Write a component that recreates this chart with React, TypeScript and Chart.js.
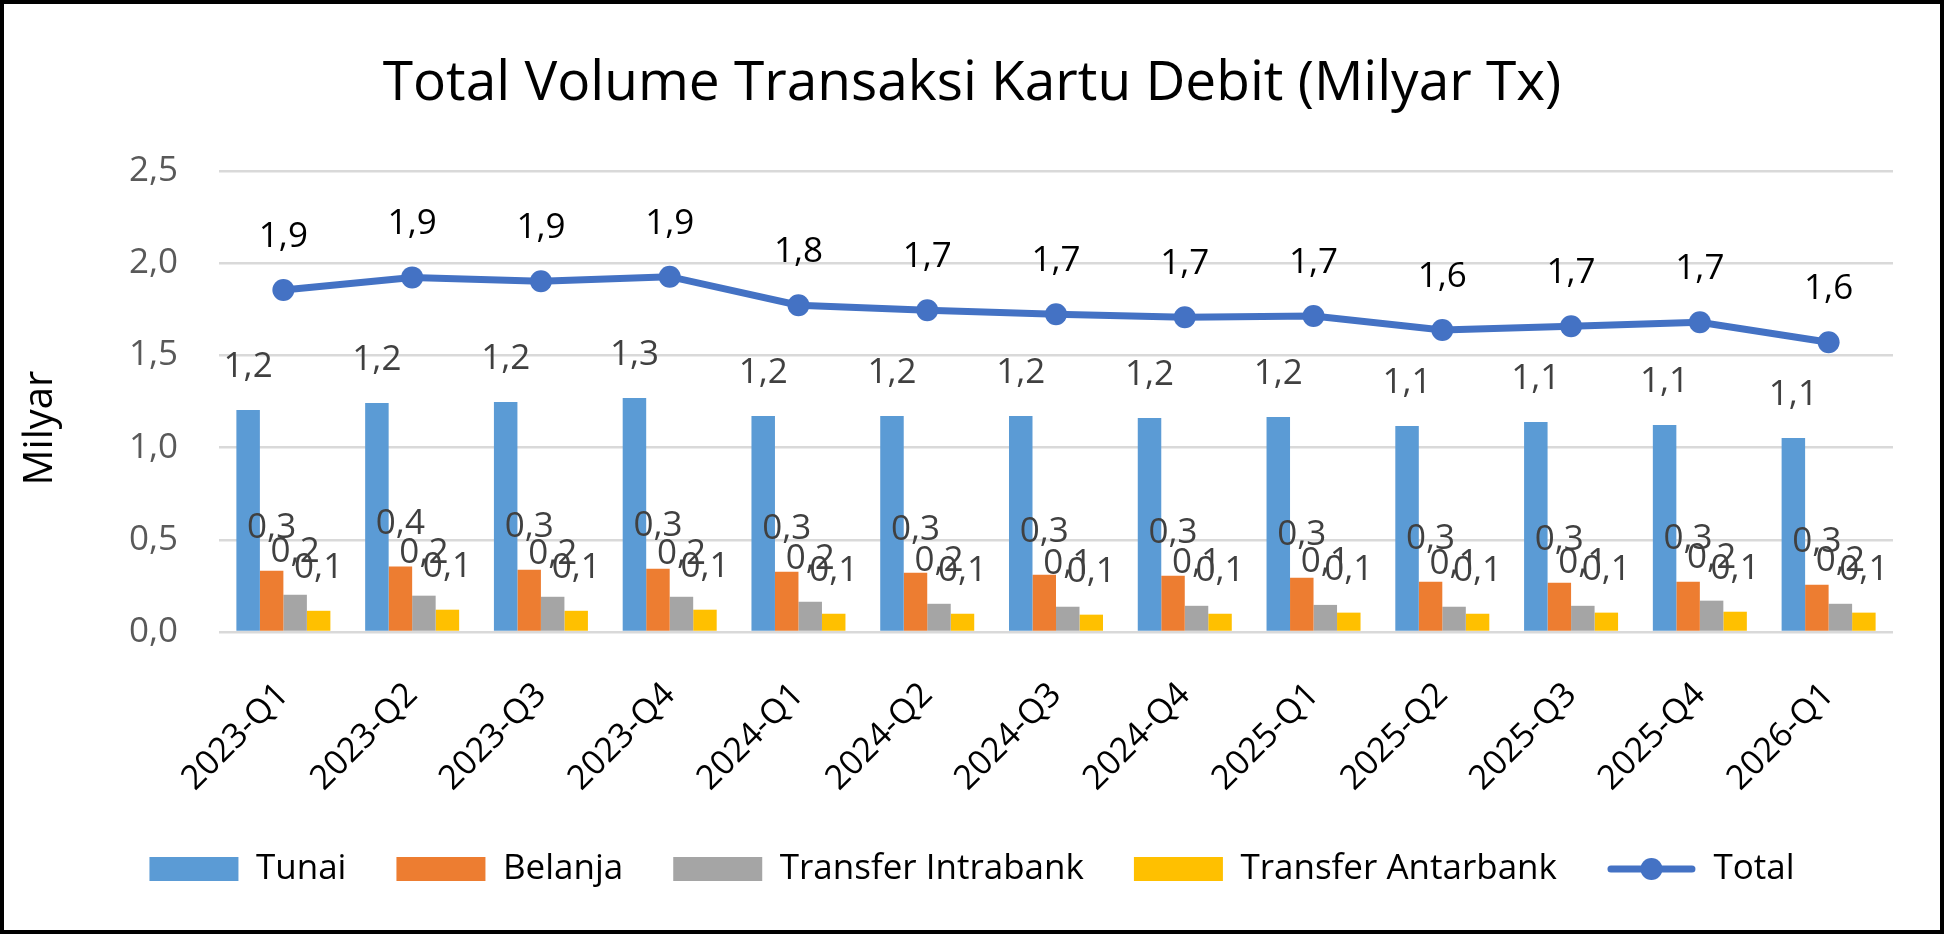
import { useEffect, useRef } from 'react';
import { Chart, registerables } from 'chart.js';

Chart.register(...registerables);

const quarters = [
  '2023-Q1', '2023-Q2', '2023-Q3', '2023-Q4',
  '2024-Q1', '2024-Q2', '2024-Q3', '2024-Q4',
  '2025-Q1', '2025-Q2', '2025-Q3', '2025-Q4',
  '2026-Q1',
];

// Milyar transaksi
const tunai = [1.204, 1.242, 1.247, 1.269, 1.171, 1.171, 1.171, 1.160, 1.166, 1.117, 1.139, 1.123, 1.052];
const belanja = [0.332, 0.355, 0.338, 0.343, 0.327, 0.321, 0.311, 0.305, 0.294, 0.273, 0.267, 0.273, 0.256];
const transferIntrabank = [0.202, 0.197, 0.191, 0.191, 0.164, 0.153, 0.137, 0.142, 0.147, 0.137, 0.142, 0.170, 0.153];
const transferAntarbank = [0.115, 0.121, 0.115, 0.121, 0.099, 0.099, 0.094, 0.099, 0.105, 0.099, 0.105, 0.110, 0.105];
const total = [1.855, 1.923, 1.902, 1.927, 1.772, 1.745, 1.723, 1.707, 1.714, 1.638, 1.658, 1.680, 1.571];

const yTicks = [0, 0.5, 1.0, 1.5, 2.0, 2.5];

const FONT = '"Open Sans", sans-serif';
const LINE_COLOR = '#4472C4';

const fmt = (v: number) => v.toFixed(1).replace('.', ',');

// Excel-style value labels above each bar / point
const valueLabels = {
  id: 'valueLabels',
  afterDatasetsDraw(chart: any) {
    const ctx = chart.ctx;
    ctx.save();
    ctx.font = `35px ${FONT}`;
    ctx.textAlign = 'center';
    ctx.textBaseline = 'alphabetic';
    chart.data.datasets.forEach((ds: any, di: number) => {
      const meta = chart.getDatasetMeta(di);
      const isLine = meta.type === 'line';
      ctx.fillStyle = isLine ? '#000000' : '#404040';
      meta.data.forEach((el: any, i: number) => {
        ctx.fillText(fmt(ds.data[i]), el.x, el.y - (isLine ? 43 : 33));
      });
    });
    ctx.restore();
  },
};

// vertical axis title, placed a bit below the axis middle like the original
const axisTitle = {
  id: 'axisTitle',
  afterDraw(chart: any) {
    const ctx = chart.ctx;
    ctx.save();
    ctx.font = `40px ${FONT}`;
    ctx.fillStyle = '#000000';
    ctx.textAlign = 'center';
    ctx.textBaseline = 'middle';
    ctx.translate(37, 424);
    ctx.rotate(-Math.PI / 2);
    ctx.fillText('Milyar', 0, 0);
    ctx.restore();
  },
};

// line + marker swatch for the Total legend entry
const lineLegendSwatch = {
  id: 'lineLegendSwatch',
  afterDraw(chart: any) {
    const legend = chart.legend;
    if (!legend || !legend.legendHitBoxes) return;
    const idx = legend.legendItems.findIndex((it: any) => it.datasetIndex === 4);
    const hb = legend.legendHitBoxes[idx];
    if (!hb) return;
    const ctx = chart.ctx;
    const boxW = legend.options.labels.boxWidth;
    const cy = hb.top + 35 / 2;
    ctx.save();
    ctx.strokeStyle = LINE_COLOR;
    ctx.fillStyle = LINE_COLOR;
    ctx.lineWidth = 7;
    ctx.lineCap = 'round';
    ctx.beginPath();
    ctx.moveTo(hb.left + 4, cy);
    ctx.lineTo(hb.left + boxW - 4, cy);
    ctx.stroke();
    ctx.beginPath();
    ctx.arc(hb.left + boxW / 2, cy, 11, 0, Math.PI * 2);
    ctx.fill();
    ctx.restore();
  },
};

export default function App() {
  const chartRef = useRef<HTMLCanvasElement>(null);
  const chartInstance = useRef<Chart | null>(null);

  useEffect(() => {
    if (!chartRef.current) return;
    document.body.style.margin = '0';

    if (chartInstance.current) {
      chartInstance.current.destroy();
    }

    const ctx = chartRef.current.getContext('2d');
    if (!ctx) return;

    Chart.defaults.font.family = FONT;
    Chart.defaults.color = '#000000';

    const barCommon = {
      type: 'bar' as const,
      categoryPercentage: 0.73,
      barPercentage: 1.0,
      borderWidth: 0,
    };

    chartInstance.current = new Chart(ctx, {
      type: 'bar',
      data: {
        labels: quarters,
        datasets: [
          { ...barCommon, label: 'Tunai', data: tunai, backgroundColor: '#5B9BD5' },
          { ...barCommon, label: 'Belanja', data: belanja, backgroundColor: '#ED7D31' },
          { ...barCommon, label: 'Transfer Intrabank', data: transferIntrabank, backgroundColor: '#A5A5A5' },
          { ...barCommon, label: 'Transfer Antarbank', data: transferAntarbank, backgroundColor: '#FFC000' },
          {
            type: 'line',
            label: 'Total',
            data: total,
            borderColor: LINE_COLOR,
            backgroundColor: LINE_COLOR,
            borderWidth: 7,
            pointRadius: 11,
            pointBorderWidth: 0,
            pointBackgroundColor: LINE_COLOR,
            tension: 0,
            fill: false,
          } as any,
        ],
      },
      options: {
        responsive: false,
        animation: false,
        events: [],
        layout: { padding: { left: 0, right: 0, top: 0, bottom: 33.5 } },
        plugins: {
          title: {
            display: true,
            text: 'Total Volume Transaksi Kartu Debit (Milyar Tx)',
            color: '#000000',
            font: { size: 55, weight: 'normal' },
            padding: { top: 47, bottom: 54 },
          },
          legend: {
            position: 'bottom',
            labels: {
              boxWidth: 89,
              boxHeight: 24,
              padding: 50,
              color: '#000000',
              font: { size: 35 },
              generateLabels(chart: any) {
                const items = Chart.defaults.plugins.legend.labels.generateLabels(chart);
                items.forEach((it: any) => {
                  if (it.datasetIndex === 4) {
                    it.fillStyle = 'rgba(0,0,0,0)';
                    it.strokeStyle = 'rgba(0,0,0,0)';
                    it.lineWidth = 0;
                  }
                });
                return items;
              },
            },
          },
          tooltip: { enabled: false },
        },
        scales: {
          x: {
            grid: { display: false },
            border: { display: false },
            ticks: {
              autoSkip: false,
              minRotation: 45,
              maxRotation: 45,
              padding: 35,
              color: '#000000',
              font: { size: 34 },
            },
            afterFit(scale: any) {
              scale.height = 169.5;
              // let the rotated labels run past the axis box without being clipped
              scale._computeLabelArea = () => undefined;
            },
          },
          y: {
            min: 0,
            max: 2.5,
            afterBuildTicks(scale: any) {
              scale.ticks = yTicks.map((v) => ({ value: v }));
            },
            grid: { color: '#D9D9D9', lineWidth: 2.5, drawTicks: false },
            border: { display: false },
            ticks: {
              padding: 41,
              color: '#595959',
              font: { size: 35 },
              callback: (v: any) => fmt(Number(v)),
            },
            afterFit(scale: any) {
              scale.width = 215;
            },
          },
          yRight: {
            position: 'right',
            display: true,
            grid: { display: false },
            border: { display: false },
            ticks: { display: false },
            afterFit(scale: any) {
              scale.width = 47;
            },
          },
        },
      },
      plugins: [valueLabels, axisTitle, lineLegendSwatch],
    });

    return () => {
      if (chartInstance.current) {
        chartInstance.current.destroy();
        chartInstance.current = null;
      }
    };
  }, []);

  return (
    <div
      style={{
        position: 'absolute',
        left: 0,
        top: 0,
        width: 1944,
        height: 934,
        boxSizing: 'border-box',
        border: '4px solid #000000',
        background: '#ffffff',
      }}
    >
      <canvas ref={chartRef} width={1936} height={926} style={{ display: 'block', width: 1936, height: 926 }} />
    </div>
  );
}
